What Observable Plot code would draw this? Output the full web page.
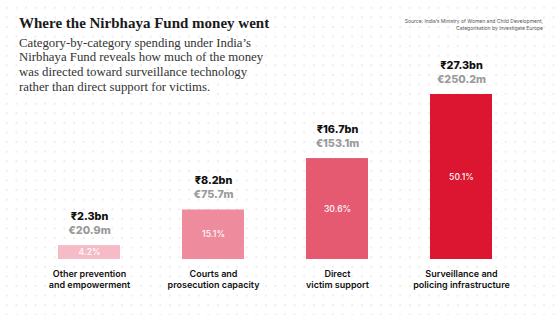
<!DOCTYPE html>
<html>
<head>
<meta charset="utf-8">
<script src="https://cdn.jsdelivr.net/npm/d3@7"></script>
<script src="https://cdn.jsdelivr.net/npm/@observablehq/plot@0.6"></script>
<style>
  html, body { margin: 0; padding: 0; }
  body { width: 560px; height: 315px; overflow: hidden; background: #fff; }
  #wrap { position: relative; width: 560px; height: 315px;
    background-image: radial-gradient(circle, #ededed 0.9px, rgba(255,255,255,0) 1.3px);
    background-size: 9.6px 9.6px; background-position: 2px 3px; }
  #chart { position: absolute; left: 0; top: 0; }
  #title { position: absolute; left: 19px; top: 15px; font-family: "Liberation Serif", serif;
    font-weight: 700; font-size: 15px; color: #1a1a1a; white-space: nowrap; }
  #subtitle { position: absolute; left: 19px; top: 35.5px; font-family: "Liberation Serif", serif;
    font-size: 12.8px; line-height: 14.8px; color: #333; white-space: nowrap; }
  #source { position: absolute; right: 17px; top: 18px; font-family: Inter, sans-serif;
    font-size: 5px; line-height: 6.5px; color: #555; text-align: right; white-space: nowrap; }
</style>
</head>
<body>
<div id="wrap">
  <div id="chart"></div>
  <div id="title">Where the Nirbhaya Fund money went</div>
  <div id="subtitle">Category-by-category spending under India’s<br>Nirbhaya Fund reveals how much of the money<br>was directed toward surveillance technology<br>rather than direct support for victims.</div>
  <div id="source">Source: India’s Ministry of Women and Child Development,<br>Categorisation by Investigate Europe</div>
</div>
<script>
const categories = ["Other prevention\nand empowerment", "Courts and\nprosecution capacity", "Direct\nvictim support", "Surveillance and\npolicing infrastructure"];
const rupeeBn = [2.3, 8.2, 16.7, 27.3];
const euroM = [20.9, 75.7, 153.1, 250.2];
const sharePct = [4.2, 15.1, 30.6, 50.1];
const colors = ["#f5bcc8", "#ee8c9e", "#e55a71", "#dc1631"];

const data = categories.map((c, i) => ({
  cat: c, rupee: rupeeBn[i], euro: euroM[i], share: sharePct[i], color: colors[i]
}));

const chart = Plot.plot({
  width: 560,
  height: 315,
  marginTop: 94,
  marginBottom: 56,
  marginLeft: 27,
  marginRight: 37,
  style: { background: "transparent", fontFamily: "Inter, sans-serif" },
  x: { domain: categories, paddingInner: 0.5, paddingOuter: 0.25, axis: null },
  y: { domain: [0, 27.3], axis: null },
  marks: [
    Plot.barY(data, { x: "cat", y: "rupee", fill: "color" }),
    Plot.text(data, { x: "cat", y: d => d.rupee / 2, text: d => d.share.toFixed(1) + "%",
      fill: "#fff", fillOpacity: 0.9, fontSize: 8.5, fontWeight: 600 }),
    Plot.text(data, { x: "cat", y: "rupee", text: d => "₹" + d.rupee.toFixed(1) + "bn",
      dy: -29, fill: "#111", fontSize: 10.8, fontWeight: 800, letterSpacing: "-0.2px" }),
    Plot.text(data, { x: "cat", y: "rupee", text: d => "€" + d.euro.toFixed(1) + "m",
      dy: -15, fill: "#9a9a9a", fontSize: 10.8, fontWeight: 800, letterSpacing: "-0.1px" }),
    Plot.text(data, { x: "cat", y: 0, text: "cat", dy: 9, lineAnchor: "top", lineHeight: 1.25,
      fill: "#111", fontSize: 9, fontWeight: 600, letterSpacing: "-0.2px" })
  ]
});
document.getElementById("chart").appendChild(chart);
</script>
</body>
</html>
